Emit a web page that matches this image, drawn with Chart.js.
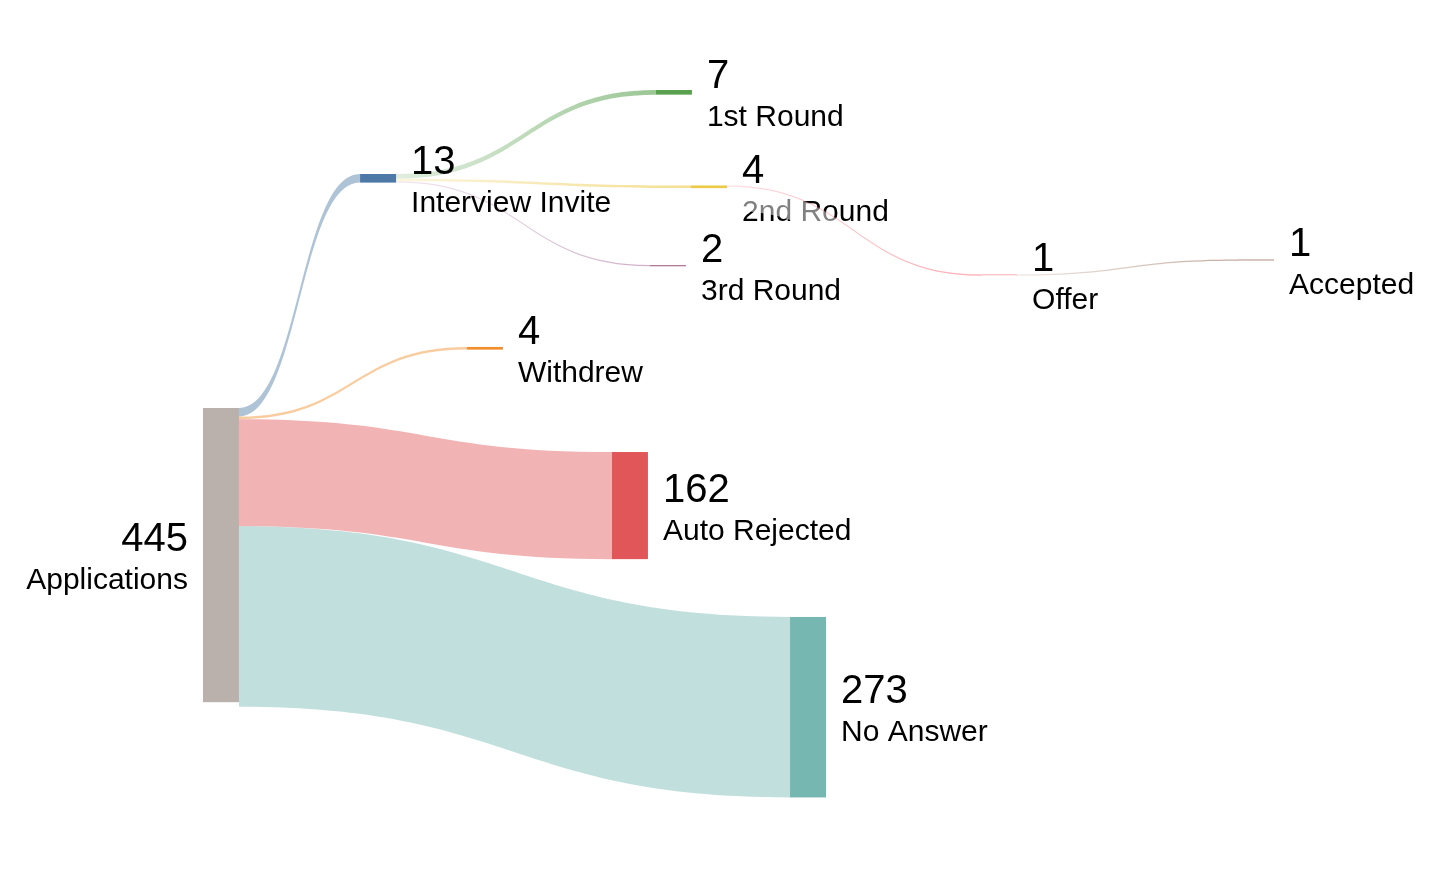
<!DOCTYPE html>
<html>
<head>
<meta charset="utf-8">
<script src="https://cdn.jsdelivr.net/npm/chart.js@4.4.1/dist/chart.umd.min.js"></script>
<style>
  html, body { margin: 0; padding: 0; background: #fff; }
  canvas { display: block; }
</style>
</head>
<body>
<canvas id="sankey" width="1456" height="874"></canvas>
<script>
// nodes
const nodeNames = ['Applications', 'Interview Invite', 'Withdrew', 'Auto Rejected', 'No Answer',
                   '1st Round', '2nd Round', '3rd Round', 'Offer', 'Accepted'];
const nodeCounts = [445, 13, 4, 162, 273, 7, 4, 2, 1, 1];

// links (source -> target, flow value)
const linkSource = [0, 0, 0, 0, 1, 1, 1, 6, 8];
const linkTarget = [1, 2, 3, 4, 5, 6, 7, 8, 9];
const linkValues = [13, 4, 162, 273, 7, 4, 2, 1, 1];

// layout: node left edge / top edge as a fraction of the plot (like plotly node.x / node.y)
const nodeX = [0.1394, 0.2473, 0.3207, 0.4203, 0.5426, 0.4505, 0.4746, 0.4464, 0.6738, 0.8503];
const nodeY = [0.4668, 0.1991, 0.3970, 0.5172, 0.7059, 0.1030, 0.2122, 0.3032, 0.3140, 0.2970];
const nodeColors = ['#bab0ac', '#4e79a7', '#f28e2b', '#e15759', '#76b7b2',
                    '#59a14f', '#edc948', '#b07aa1', '#ff9da7', '#9c755f'];
const flowSpan = 1322;   // flow units that fill the full plot height
const nodeWidth = 36;
const hazeLinks = [7];   // link drawn with a white veil over the labels beneath it

function rgba(hex, a) {
    const n = parseInt(hex.slice(1), 16);
    return 'rgba(' + (n >> 16) + ',' + ((n >> 8) & 255) + ',' + (n & 255) + ',' + a + ')';
}

const sankeyPlugin = {
    id: 'sankey',
    afterDatasetsDraw(chart) {
        const ctx = chart.ctx;
        const xs = chart.scales.x, ys = chart.scales.y;
        const unit = ys.getPixelForValue(1 / flowSpan) - ys.getPixelForValue(0);

        // node boxes in pixels
        const nodes = nodeNames.map((name, i) => {
            const left = xs.getPixelForValue(nodeX[i]);
            const top = ys.getPixelForValue(nodeY[i]);
            const h = nodeCounts[i] * unit;
            return { left, right: left + nodeWidth, top, h, outOff: 0, inOff: 0,
                     hasIn: linkTarget.includes(i) };
        });

        // stack links on both ends
        const links = linkValues.map((v, i) => {
            const s = nodes[linkSource[i]], t = nodes[linkTarget[i]];
            const w = Math.max(v * unit, 1.2);
            const l = { x0: s.right, y0: s.top + s.outOff, x1: t.left, y1: t.top + t.inOff, w,
                        color: nodeColors[linkTarget[i]], root: !s.hasIn };
            s.outOff += v * unit;
            t.inOff += v * unit;
            return l;
        });

        function bandPath(l, dy, w) {
            const xm = (l.x0 + l.x1) / 2;
            ctx.beginPath();
            ctx.moveTo(l.x0, l.y0 + dy);
            ctx.bezierCurveTo(xm, l.y0 + dy, xm, l.y1 + dy, l.x1, l.y1 + dy);
            ctx.lineTo(l.x1, l.y1 + dy + w);
            ctx.bezierCurveTo(xm, l.y1 + dy + w, xm, l.y0 + dy + w, l.x0, l.y0 + dy + w);
            ctx.closePath();
        }

        function drawLink(l) {
            bandPath(l, 0, l.w);
            if (l.root) {
                ctx.fillStyle = rgba(l.color, 0.45);
            } else {
                const g = ctx.createLinearGradient(l.x0, 0, l.x1, 0);
                g.addColorStop(0, rgba(l.color, 0.18));
                g.addColorStop(1, rgba(l.color, 0.6));
                ctx.fillStyle = g;
            }
            ctx.fill();
        }

        ctx.save();
        links.forEach(drawLink);

        nodes.forEach((n, i) => {
            ctx.fillStyle = nodeColors[i];
            ctx.fillRect(n.left, n.top, nodeWidth, Math.max(n.h, 0.8));
        });

        // labels: count above, name below
        ctx.fillStyle = '#000';
        ctx.textBaseline = 'alphabetic';
        nodes.forEach((n, i) => {
            const cy = n.top + n.h / 2;
            const leftSide = !n.hasIn;
            ctx.textAlign = leftSide ? 'right' : 'left';
            const tx = leftSide ? n.left - 15 : n.right + 15;
            ctx.font = '40px "Liberation Sans", Arial, sans-serif';
            ctx.fillText(String(nodeCounts[i]), tx, cy - 4);
            ctx.font = '30px "Liberation Sans", Arial, sans-serif';
            ctx.fillText(nodeNames[i], tx, cy + 34);
        });

        hazeLinks.forEach(k => {
            const l = links[k];
            bandPath(l, 1, 24);
            ctx.fillStyle = 'rgba(255,255,255,0.5)';
            ctx.fill();
            drawLink(l);
        });
        ctx.restore();
    }
};

new Chart(document.getElementById('sankey').getContext('2d'), {
    type: 'scatter',
    data: { datasets: [{ data: [] }] },
    options: {
        responsive: false,
        animation: false,
        layout: { padding: 0 },
        plugins: { legend: { display: false }, tooltip: { enabled: false } },
        scales: {
            x: { type: 'linear', min: 0, max: 1, display: false },
            y: { type: 'linear', min: 0, max: 1, reverse: true, display: false }
        }
    },
    plugins: [sankeyPlugin]
});
</script>
</body>
</html>
